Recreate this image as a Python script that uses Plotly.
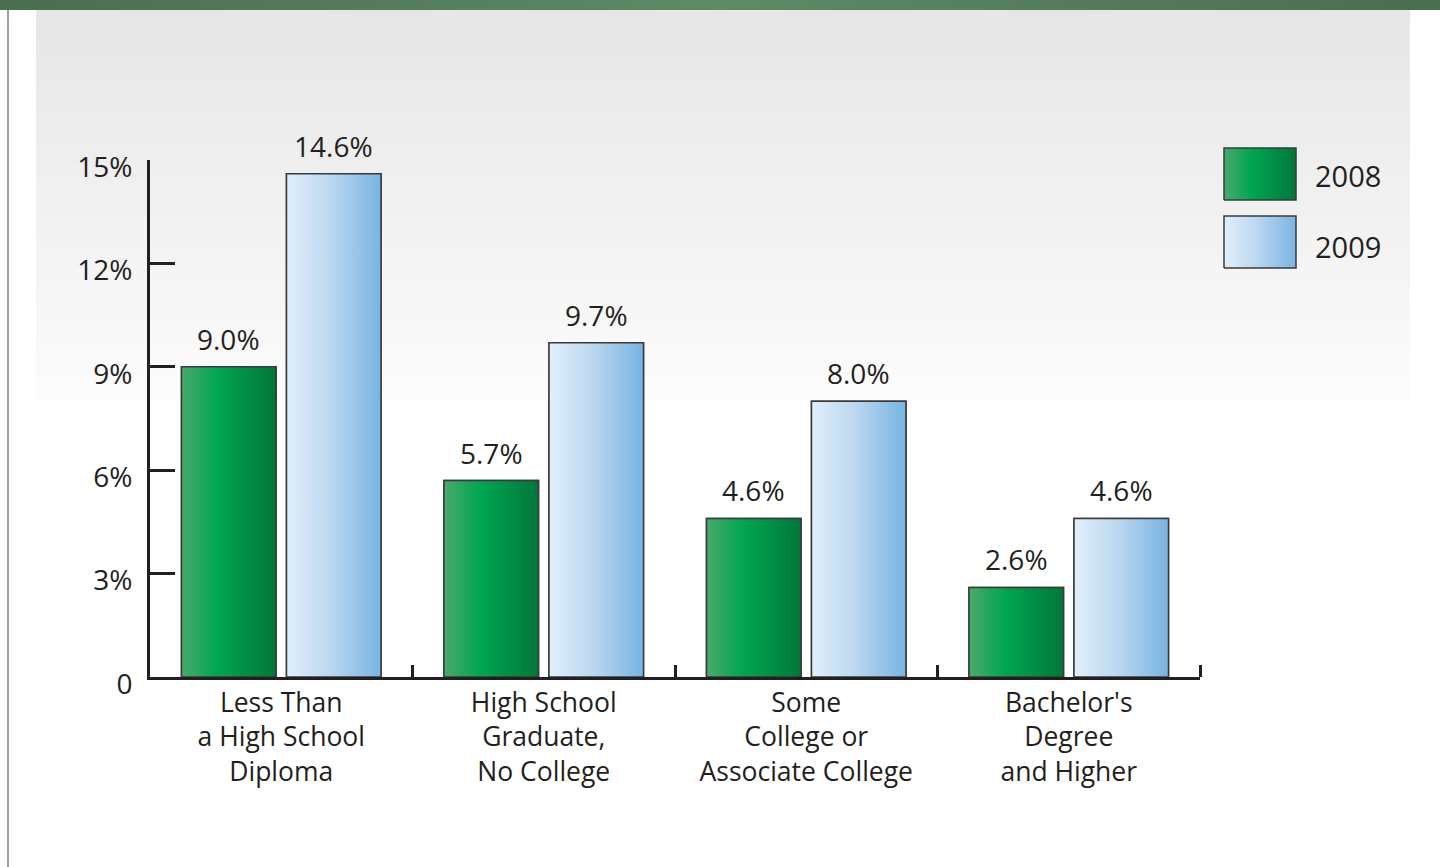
import base64, struct, zlib
import plotly.graph_objects as go

# ---------------- data ----------------
categories = ["Less Than<br>a High School<br>Diploma",
              "High School<br>Graduate,<br>No College",
              "Some<br>College or<br>Associate College",
              "Bachelor's<br>Degree<br>and Higher"]
series_names = ["2008", "2009"]
values_2008 = [9.0, 5.7, 4.6, 2.6]
values_2009 = [14.6, 9.7, 8.0, 4.6]
ytick_vals = [0, 3, 6, 9, 12, 15]
ytick_text = ["0", "3%", "6%", "9%", "12%", "15%"]

W, H = 1440, 867
TXT = "#231f20"
FONT = "Open Sans"

green_scale = [[0, "#4aa96c"], [0.38, "#00a651"], [1, "#00773a"]]
blue_scale = [[0, "#e2effa"], [0.45, "#bcd8f0"], [1, "#78b4e2"]]


def png_uri(w, h, fn):
    raw = b""
    for y in range(h):
        raw += b"\x00" + b"".join(bytes(fn(x, y)) for x in range(w))
    def chunk(t, d):
        c = struct.pack(">I", len(d)) + t + d
        return c + struct.pack(">I", zlib.crc32(t + d) & 0xffffffff)
    png = b"\x89PNG\r\n\x1a\n" + chunk(b"IHDR", struct.pack(">IIBBBBB", w, h, 8, 2, 0, 0, 0))
    png += chunk(b"IDAT", zlib.compress(raw)) + chunk(b"IEND", b"")
    return "data:image/png;base64," + base64.b64encode(png).decode()


def lerp(c1, c2, t):
    return tuple(int(round(a + (b - a) * t)) for a, b in zip(c1, c2))


bg_uri = png_uri(1, 128, lambda x, y: lerp((230, 230, 230), (252, 252, 252), y / 127))


def topbar(x, y):
    t = x / 255
    d, l = (74, 110, 79), (94, 138, 100)
    return lerp(d, l, t / 0.5) if t < 0.5 else lerp(l, d, (t - 0.5) / 0.5)


top_uri = png_uri(256, 1, topbar)

fig = go.Figure()

idx = list(range(len(categories)))
BW = 0.36
offsets = [-0.38, 0.02]
scales = [green_scale, blue_scale]
mids = ["#00a651", "#bcd8f0"]
all_vals = [values_2008, values_2009]

for s, (name, vals) in enumerate(zip(series_names, all_vals)):
    fig.add_trace(go.Bar(x=idx, y=vals, name=name, offset=offsets[s], width=BW,
                         marker=dict(color=mids[s], line=dict(color="#3a3a3a", width=1.5)),
                         showlegend=False, hoverinfo="skip"))

for s, (name, vals) in enumerate(zip(series_names, all_vals)):
    for i, v in zip(idx, vals):
        a, b = i + offsets[s], i + offsets[s] + BW
        fig.add_trace(go.Scatter(x=[a, b, b, a, a], y=[0, 0, v, v, 0], mode="lines",
                                 fill="toself",
                                 fillgradient=dict(type="horizontal", colorscale=scales[s]),
                                 line=dict(color="#3a3a3a", width=1.5),
                                 showlegend=False, hoverinfo="skip", name=name))
        fig.add_annotation(x=i + offsets[s] + BW / 2, y=v, text=f"{v:.1f}%", showarrow=False,
                           yanchor="bottom", yshift=7,
                           font=dict(family=FONT, size=28, color=TXT))

# legend (manual, large gradient swatches)
sw = [(148, 200), (216, 268)]
legend_text_y = [175.5, 246.5]
for s, (y0, y1) in enumerate(sw):
    fig.add_trace(go.Scatter(x=[1224, 1296, 1296, 1224, 1224], y=[y1, y1, y0, y0, y1],
                             xaxis="x2", yaxis="y2", mode="lines", fill="toself",
                             fillgradient=dict(type="horizontal", colorscale=scales[s]),
                             line=dict(color="#3a3a3a", width=1.5),
                             showlegend=False, hoverinfo="skip"))
    fig.add_annotation(xref="paper", yref="paper", x=1313 / W, y=1 - legend_text_y[s] / H,
                       text=series_names[s], showarrow=False, xanchor="left", yanchor="middle",
                       font=dict(family=FONT, size=29, color=TXT))

fig.update_layout(
    width=W, height=H,
    margin=dict(l=0, r=0, t=0, b=0),
    paper_bgcolor="white", plot_bgcolor="rgba(0,0,0,0)",
    barmode="overlay",
    font=dict(family=FONT, color=TXT),
    xaxis=dict(domain=[150 / W, 1200 / W], range=[-0.5, 3.5], showgrid=False, zeroline=False,
               showline=True, linecolor=TXT, linewidth=3,
               tickmode="array", tickvals=idx, ticktext=categories, ticks="",
               tickfont=dict(family=FONT, size=26.5, color=TXT),
               minor=dict(tickmode="array", tickvals=[0.5, 1.5, 2.5, 3.5], ticks="inside",
                          ticklen=12, tickwidth=3, tickcolor=TXT, showgrid=False),
               automargin=False, fixedrange=True),
    yaxis=dict(domain=[1 - 677 / H, 1 - 160 / H], range=[0, 15], showgrid=False, zeroline=False,
               showline=True, linecolor=TXT, linewidth=3,
               tickmode="array", tickvals=ytick_vals, ticktext=ytick_text,
               ticks="inside", ticklen=25, tickwidth=3, tickcolor=TXT,
               tickfont=dict(family=FONT, size=28, color=TXT),
               ticklabelshift=7, ticklabelstandoff=9,
               automargin=False, fixedrange=True),
    xaxis2=dict(domain=[1222 / W, 1298 / W], range=[1222, 1298], visible=False,
                anchor="y2", fixedrange=True),
    yaxis2=dict(domain=[1 - 270 / H, 1 - 146 / H], range=[270, 146], visible=False,
                anchor="x2", fixedrange=True),
    images=[
        dict(source=bg_uri, xref="paper", yref="paper", x=36 / W, y=1 - 10 / H,
             sizex=(1410 - 36) / W, sizey=390 / H, sizing="stretch", layer="below",
             xanchor="left", yanchor="top"),
        dict(source=top_uri, xref="paper", yref="paper", x=0, y=1,
             sizex=1, sizey=10 / H, sizing="stretch", layer="below",
             xanchor="left", yanchor="top"),
    ],
    shapes=[dict(type="line", xref="paper", yref="paper", x0=8 / W, x1=8 / W,
                 y0=0, y1=1 - 10 / H, line=dict(color="#a0a0a0", width=2), layer="below")],
)

fig.write_html("out.html")
